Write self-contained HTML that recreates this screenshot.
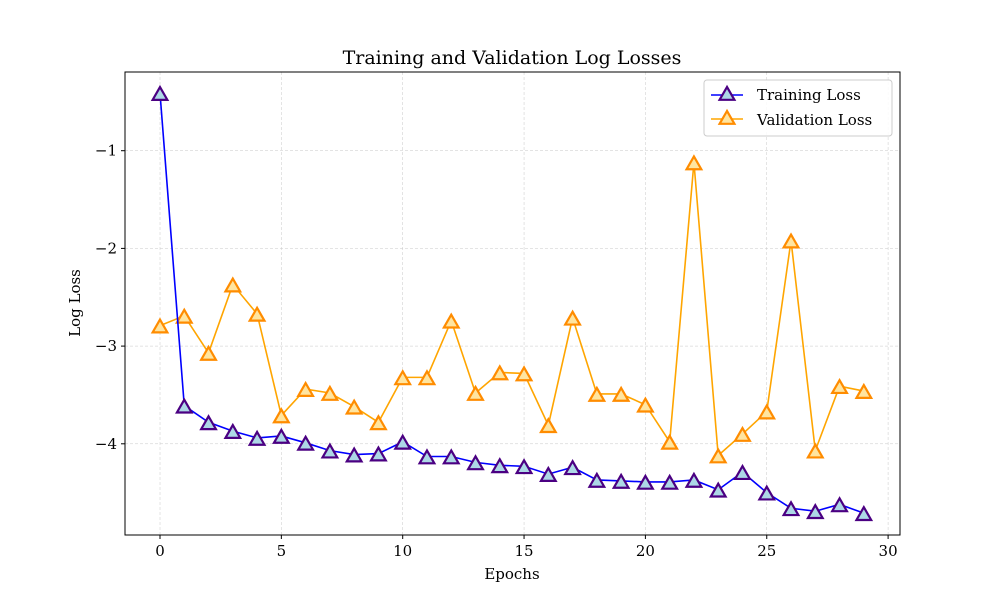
<!DOCTYPE html>
<html><head><meta charset="utf-8"><style>
html,body{margin:0;padding:0;background:#fff;}
svg text{font-family:"DejaVu Serif","Liberation Serif",serif;fill:#000;}
</style></head><body>
<svg id="chart" width="1000" height="600" xmlns="http://www.w3.org/2000/svg"></svg>
<script>
const epochs = [0,1,2,3,4,5,6,7,8,9,10,11,12,13,14,15,16,17,18,19,20,21,22,23,24,25,26,27,28,29];
const trainLoss = [-0.41,-3.61,-3.78,-3.87,-3.94,-3.92,-3.99,-4.07,-4.11,-4.10,-3.98,-4.13,-4.13,-4.19,-4.22,-4.23,-4.31,-4.24,-4.37,-4.38,-4.39,-4.39,-4.37,-4.47,-4.29,-4.50,-4.66,-4.69,-4.62,-4.71];
const valLoss = [-2.79,-2.69,-3.07,-2.37,-2.67,-3.71,-3.44,-3.48,-3.62,-3.78,-3.32,-3.32,-2.74,-3.48,-3.27,-3.28,-3.81,-2.71,-3.49,-3.49,-3.60,-3.98,-1.12,-4.12,-3.90,-3.67,-1.92,-4.07,-3.41,-3.46];
const xTicks = [0,5,10,15,20,25,30];
const yTicks = [-1,-2,-3,-4];
const yTickLabels = ["\u22121","\u22122","\u22123","\u22124"];

const svg = document.getElementById('chart');
const NS = 'http://www.w3.org/2000/svg';
const L=125,R=900,T=72,B=535;
const xs = v => 160 + v*24.27;
const ys = v => 53 - v*97.7;
function mk(tag, attrs, parent){const e=document.createElementNS(NS,tag);for(const k in attrs)e.setAttribute(k,attrs[k]);(parent||svg).appendChild(e);return e;}

xTicks.forEach(t=>{const g=mk('line',{x1:xs(t),x2:xs(t),y1:T,y2:B,stroke:'#c8c8c8','stroke-width':0.5,'stroke-dasharray':'3,2'});

});
yTicks.forEach(t=>{const g=mk('line',{x1:L,x2:R,y1:ys(t),y2:ys(t),stroke:'#c8c8c8','stroke-width':0.5,'stroke-dasharray':'3,2'});

});

xTicks.forEach(t=>{mk('line',{x1:xs(t),x2:xs(t),y1:B,y2:B+4,stroke:'#000'});
const tx=mk('text',{x:xs(t),y:B+21,'text-anchor':'middle','font-size':15});tx.textContent=t;

});
yTicks.forEach((t,i)=>{mk('line',{x1:L-4,x2:L,y1:ys(t),y2:ys(t),stroke:'#000'});
const tx=mk('text',{x:L-8,y:ys(t)+5,'text-anchor':'end','font-size':15});tx.textContent=yTickLabels[i];

});

function tri(cx,cy,fill,stroke,parent){
  const s=8;
  return mk('polygon',{points:`${cx},${cy-s} ${cx-s*0.92},${cy+s*0.6} ${cx+s*0.92},${cy+s*0.6}`,fill:fill,stroke:stroke,'stroke-width':2.2},parent);
}
function series(vals,color,fill,edge,name){
  const g=mk('g',{});
  
  
  mk('polyline',{points:vals.map((v,i)=>xs(epochs[i])+','+ys(v)).join(' '),fill:'none',stroke:color,'stroke-width':1.6},g);
  vals.forEach((v,i)=>{const p=tri(xs(epochs[i]),ys(v)+2,fill,edge,g);
  
  });
}
series(valLoss,'#ffa500','#ffe5a0','#ff8c00','validation-loss-series');
series(trainLoss,'#0000ff','#add8e6','#4b0082','training-loss-series');

const fr=mk('rect',{x:L,y:T,width:R-L,height:B-T,fill:'none',stroke:'#000','stroke-width':1});


</script>
<svg style="position:absolute;left:0;top:0" width="1000" height="600" xmlns="http://www.w3.org/2000/svg">
<text x="512" y="64" text-anchor="middle" font-size="19">Training and Validation Log Losses</text>
<text x="512" y="579" text-anchor="middle" font-size="15">Epochs</text>
<text x="80" y="303" text-anchor="middle" font-size="15" transform="rotate(-90 80 303)">Log Loss</text>
<g>
<rect x="704" y="80" width="188" height="56" rx="3" fill="#fff" fill-opacity="0.85" stroke="#ccc"/>
<g>
<line x1="711" x2="743" y1="95" y2="95" stroke="#0000ff" stroke-width="1.6"/>
<polygon points="727,87 719.6,99.8 734.4,99.8" fill="#add8e6" stroke="#4b0082" stroke-width="2.2"/>
<text x="757" y="100" font-size="15">Training Loss</text>
</g>
<g>
<line x1="711" x2="743" y1="119" y2="119" stroke="#ffa500" stroke-width="1.6"/>
<polygon points="727,111 719.6,123.8 734.4,123.8" fill="#ffe5a0" stroke="#ff8c00" stroke-width="2.2"/>
<text x="757" y="125" font-size="15">Validation Loss</text>
</g>
</g>
</svg>
</body></html>
